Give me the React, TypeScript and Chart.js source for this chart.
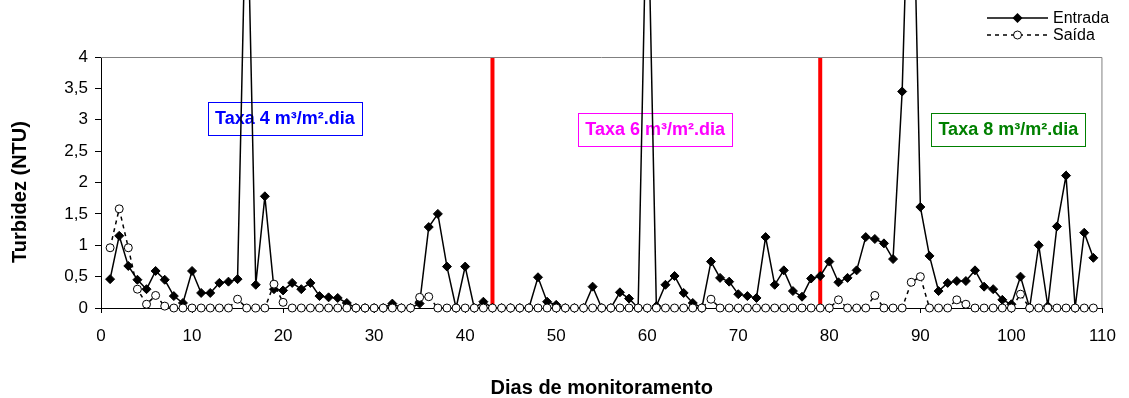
import React, { useEffect, useRef } from 'react';
import { Chart, registerables } from 'chart.js';

Chart.register(...registerables);

const FONT = '"Liberation Sans", Arial, sans-serif';

const days = [
  1, 2, 3, 4, 5, 6, 7, 8, 9, 10, 11, 12, 13, 14, 15, 16, 17, 18, 19, 20,
  21, 22, 23, 24, 25, 26, 27, 28, 29, 30, 31, 32, 33, 34, 35, 36, 37, 38, 39, 40,
  41, 42, 43, 44, 45, 46, 47, 48, 49, 50, 51, 52, 53, 54, 55, 56, 57, 58, 59, 60,
  61, 62, 63, 64, 65, 66, 67, 68, 69, 70, 71, 72, 73, 74, 75, 76, 77, 78, 79, 80,
  81, 82, 83, 84, 85, 86, 87, 88, 89, 90, 91, 92, 93, 94, 95, 96, 97, 98, 99, 100,
  101, 102, 103, 104, 105, 106, 107, 108, 109,
];

const entrada = [
  0.46, 1.15, 0.67, 0.45, 0.3, 0.59, 0.45, 0.19, 0.08, 0.59,
  0.24, 0.24, 0.4, 0.42, 0.46, 7.1, 0.37, 1.78, 0.3, 0.28,
  0.4, 0.3, 0.4, 0.19, 0.17, 0.16, 0.08, 0, 0, 0,
  0, 0.07, 0, 0, 0.07, 1.29, 1.5, 0.66, 0, 0.66,
  0, 0.1, 0, 0, 0, 0, 0, 0.49, 0.1, 0.05,
  0, 0, 0, 0.34, 0, 0, 0.25, 0.15, 0, 7.1,
  0.03, 0.37, 0.51, 0.24, 0.08, 0, 0.74, 0.48, 0.42, 0.22,
  0.19, 0.16, 1.13, 0.37, 0.6, 0.27, 0.18, 0.47, 0.51, 0.74,
  0.41, 0.48, 0.6, 1.13, 1.1, 1.03, 0.78, 3.45, 8.4, 1.61,
  0.83, 0.27, 0.4, 0.43, 0.43, 0.6, 0.34, 0.3, 0.13, 0.06,
  0.5, 0, 1.0, 0.03, 1.3, 2.11, 0, 1.2, 0.8,
];

const saida = [
  0.96, 1.58, 0.96, 0.3, 0.06, 0.2, 0.03, 0, 0, 0,
  0, 0, 0, 0, 0.14, 0, 0, 0, 0.38, 0.09,
  0, 0, 0, 0, 0, 0, 0, 0, 0, 0,
  0, 0, 0, 0, 0.17, 0.18, 0, 0, 0, 0,
  0, 0, 0, 0, 0, 0, 0, 0, 0, 0,
  0, 0, 0, 0, 0, 0, 0, 0, 0, 0,
  0, 0, 0, 0, 0, 0, 0.14, 0, 0, 0,
  0, 0, 0, 0, 0, 0, 0, 0, 0, 0,
  0.13, 0, 0, 0, 0.2, 0, 0, 0, 0.41, 0.5,
  0, 0, 0, 0.13, 0.06, 0, 0, 0, 0, 0,
  0.22, 0, 0, 0, 0, 0, 0, 0, 0,
];

const xTickValues = [0, 10, 20, 30, 40, 50, 60, 70, 80, 90, 100, 110];
const yTickValues = [0, 0.5, 1, 1.5, 2, 2.5, 3, 3.5, 4];
const phaseChangeDays = [43, 79];
const rateTexts = ['Taxa 4 m³/m².dia', 'Taxa 6 m³/m².dia', 'Taxa 8 m³/m².dia'];
const seriesNames = ['Entrada', 'Saída'];
const xTitle = 'Dias de monitoramento';
const yTitle = 'Turbidez (NTU)';

// label placement (axis units) and colours
const rateBoxes = [
  { x: 20.2, y: 3.02, color: '#0000FF' },
  { x: 60.86, y: 2.85, color: '#FF00FF' },
  { x: 99.66, y: 2.85, color: '#008000' },
];

const overlayPlugin = {
  id: 'overlay',
  beforeDatasetsDraw(chart: any) {
    const { ctx, chartArea: a, scales } = chart;
    const x = scales.x;
    const y = scales.y;
    ctx.save();
    // grey frame top/right
    ctx.strokeStyle = '#808080';
    ctx.lineWidth = 1;
    ctx.beginPath();
    ctx.moveTo(a.left, a.top + 0.5);
    ctx.lineTo(a.right - 0.5, a.top + 0.5);
    ctx.lineTo(a.right - 0.5, a.bottom);
    ctx.stroke();
    // red phase lines
    ctx.strokeStyle = '#FF0000';
    ctx.lineWidth = 4;
    phaseChangeDays.forEach((d) => {
      const px = x.getPixelForValue(d);
      ctx.beginPath();
      ctx.moveTo(px, a.top + 1);
      ctx.lineTo(px, y.getPixelForValue(0.06));
      ctx.stroke();
    });
    // rate boxes
    ctx.font = `bold 18px ${FONT}`;
    ctx.textAlign = 'center';
    ctx.textBaseline = 'middle';
    rateTexts.forEach((t, i) => {
      const b = rateBoxes[i];
      const cx = x.getPixelForValue(b.x);
      const cy = y.getPixelForValue(b.y);
      const w = ctx.measureText(t).width + 14;
      const h = 33;
      ctx.strokeStyle = b.color;
      ctx.lineWidth = 1;
      ctx.strokeRect(Math.round(cx - w / 2) + 0.5, Math.round(cy - h / 2) + 0.5, Math.round(w), h);
      ctx.fillStyle = b.color;
      ctx.fillText(t, cx, cy + 1);
    });
    ctx.restore();
  },
  afterDraw(chart: any) {
    const { ctx, chartArea: a } = chart;
    ctx.save();
    // y title
    ctx.fillStyle = '#000';
    ctx.font = `bold 20px ${FONT}`;
    ctx.textAlign = 'center';
    ctx.textBaseline = 'middle';
    ctx.translate(20, 192);
    ctx.rotate(-Math.PI / 2);
    ctx.fillText(yTitle, 0, 0);
    ctx.restore();

    // legend
    ctx.save();
    const lx0 = 987;
    const lx1 = 1048;
    const lxm = (lx0 + lx1) / 2;
    const ly = [18, 35];
    ctx.strokeStyle = '#000';
    ctx.lineWidth = 1.5;
    ctx.beginPath();
    ctx.moveTo(lx0, ly[0]);
    ctx.lineTo(lx1, ly[0]);
    ctx.stroke();
    ctx.fillStyle = '#000';
    ctx.beginPath();
    ctx.moveTo(lxm, ly[0] - 5);
    ctx.lineTo(lxm + 5, ly[0]);
    ctx.lineTo(lxm, ly[0] + 5);
    ctx.lineTo(lxm - 5, ly[0]);
    ctx.closePath();
    ctx.fill();
    ctx.setLineDash([4, 4]);
    ctx.beginPath();
    ctx.moveTo(lx0, ly[1]);
    ctx.lineTo(lx1, ly[1]);
    ctx.stroke();
    ctx.setLineDash([]);
    ctx.lineWidth = 1;
    ctx.fillStyle = '#fff';
    ctx.beginPath();
    ctx.arc(lxm, ly[1], 4, 0, Math.PI * 2);
    ctx.fill();
    ctx.stroke();
    ctx.fillStyle = '#000';
    ctx.font = `16px ${FONT}`;
    ctx.textAlign = 'left';
    ctx.textBaseline = 'middle';
    ctx.fillText(seriesNames[0], lx1 + 5, ly[0] + 1);
    ctx.fillText(seriesNames[1], lx1 + 5, ly[1] + 1);
    ctx.restore();
  },
};

export default function App() {
  const ref = useRef<HTMLCanvasElement | null>(null);

  useEffect(() => {
    if (!ref.current) return;
    const chart = new Chart(ref.current, {
      type: 'line',
      data: {
        datasets: [
          {
            label: seriesNames[0],
            data: days.map((d, i) => ({ x: d, y: entrada[i] })),
            borderColor: '#000',
            borderWidth: 1.5,
            backgroundColor: '#000',
            pointStyle: 'rectRot',
            pointRadius: 4.5,
            pointBackgroundColor: '#000',
            pointBorderColor: '#000',
            pointBorderWidth: 1,
            tension: 0,
            order: 2,
            clip: { left: 5, right: 5, top: false, bottom: 5 },
          },
          {
            label: seriesNames[1],
            data: days.map((d, i) => ({ x: d, y: saida[i] })),
            borderColor: '#000',
            borderWidth: 1.5,
            borderDash: [4, 4],
            pointStyle: 'circle',
            pointRadius: 4,
            pointBackgroundColor: '#fff',
            pointBorderColor: '#000',
            pointBorderWidth: 1,
            tension: 0,
            order: 1,
            clip: 6,
          },
        ],
      } as any,
      options: {
        animation: false,
        responsive: false,
        maintainAspectRatio: false,
        events: [],
        font: { family: FONT },
        layout: { padding: { top: 57, right: 23, left: 0, bottom: 0 } },
        plugins: {
          legend: { display: false },
          tooltip: { enabled: false },
        },
        scales: {
          x: {
            type: 'linear',
            min: 0,
            max: 110,
            afterBuildTicks: (s: any) => {
              s.ticks = xTickValues.map((v) => ({ value: v }));
            },
            afterFit: (s: any) => {
              s.height = 90;
            },
            ticks: {
              font: { size: 17, family: FONT },
              color: '#000',
              padding: 13,
              maxRotation: 0,
              autoSkip: false,
            },
            grid: { drawOnChartArea: false, drawTicks: true, tickLength: 5, color: '#000' },
            border: { display: true, color: '#000', width: 1 },
            title: {
              display: true,
              text: xTitle,
              color: '#000',
              font: { size: 20, weight: 'bold', lineHeight: 1, family: FONT },
              padding: 0,
            },
          },
          y: {
            type: 'linear',
            min: 0,
            max: 4,
            afterBuildTicks: (s: any) => {
              s.ticks = yTickValues.map((v) => ({ value: v }));
            },
            afterFit: (s: any) => {
              s.width = 101;
            },
            ticks: {
              font: { size: 17, family: FONT },
              color: '#000',
              padding: 7,
              callback: (v: any) => String(v).replace('.', ','),
            },
            grid: { drawOnChartArea: false, drawTicks: true, tickLength: 6, color: '#000' },
            border: { display: true, color: '#000', width: 1 },
          },
        },
      } as any,
      plugins: [overlayPlugin],
    });
    return () => chart.destroy();
  }, []);

  return (
    <div style={{ position: 'absolute', left: 0, top: 0, width: 1129, height: 398, background: '#fff' }}>
      <canvas ref={ref} width={1129} height={398} style={{ display: 'block', width: 1129, height: 398 }} />
    </div>
  );
}
